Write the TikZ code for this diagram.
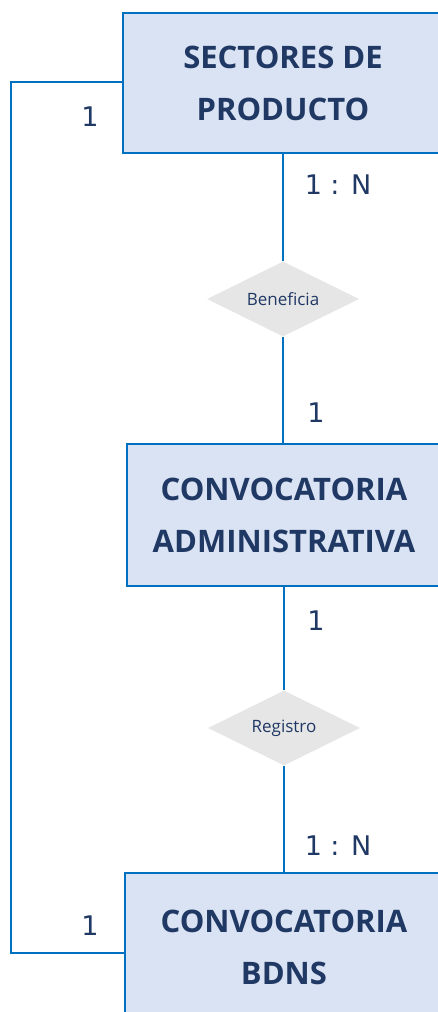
\documentclass[tikz,border=0pt]{standalone}
\usepackage{fontspec}
\setmainfont{Open Sans}
\newfontfamily\numfont{DejaVu Sans}
\usetikzlibrary{shapes.geometric}

\definecolor{boxblue}{HTML}{0070C0}
\definecolor{boxfill}{HTML}{DAE3F3}
\definecolor{navy}{HTML}{203864}
\definecolor{relgray}{HTML}{E7E6E6}

\begin{document}
\begin{tikzpicture}[
x=1pt, y=-1pt,
entity/.style={rectangle, draw=boxblue, line width=2.5pt, fill=boxfill, text=navy, align=center, inner sep=0pt, minimum width=320pt, font=\fontsize{31}{52}\selectfont\bfseries},
relation/.style={diamond, fill=relgray, text=navy, aspect=2, inner sep=0pt, minimum width=152pt, minimum height=75pt, font=\fontsize{17}{20}\selectfont},
link/.style={draw=boxblue, line width=2.2pt},
card/.style={text=navy, inner sep=0pt, font=\numfont\fontsize{27}{30}\selectfont}
]
\clip (0,0) rectangle (438,1012);

\node[entity, minimum height=140pt] at (283, 83) (sect) {SECTORES DE\\PRODUCTO};
\node[entity, minimum height=142pt, minimum width=314pt] at (284, 515) (conv) {CONVOCATORIA\\ADMINISTRATIVA};
\node[entity, minimum height=148pt, minimum width=318pt] at (284, 947) (bdns) {CONVOCATORIA\\BDNS};

\node[relation] at (283, 299) (benef) {Beneficia};
\node[relation] at (284, 728) (regis) {Registro};

\draw[link] (sect.south -| benef.north) -- (benef.north);
\draw[link] (benef.south) -- (benef.south |- conv.north);
\draw[link] (conv.south -| regis.north) -- (regis.north);
\draw[link] (regis.south) -- (regis.south |- bdns.north);

\coordinate (bend) at (11, 953);
\draw[link] ([yshift=1pt]sect.west) -| (bend) -- (bend -| bdns.west);

\node[card] at (90, 117) (c1) {1};
\node[card] at (338, 185) (c2) {1 : N};
\node[card] at (316, 413) (c3) {1};
\node[card] at (316, 621) (c4) {1};
\node[card] at (338, 846) (c5) {1 : N};
\node[card] at (90, 926) (c6) {1};
\end{tikzpicture}
\end{document}
